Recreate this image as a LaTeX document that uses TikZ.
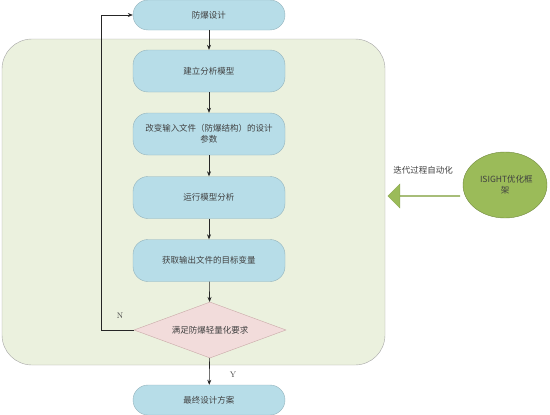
\documentclass[tikz,border=0pt]{standalone}
\usepackage{fontspec}
\newfontfamily\cjk{Noto Sans CJK SC}
\usetikzlibrary{shapes.geometric,shapes.arrows,arrows.meta}
\definecolor{boxfill}{HTML}{B7DDE8}
\definecolor{boxline}{HTML}{93B3BC}
\definecolor{bgfill}{HTML}{EBF1DE}
\definecolor{bgline}{HTML}{A6A6A6}
\definecolor{dfill}{HTML}{F2DCDB}
\definecolor{dline}{HTML}{C9A9A8}
\definecolor{efill}{HTML}{9BBB59}
\definecolor{eline}{HTML}{71893F}
\definecolor{txt}{HTML}{404040}
\tikzset{
  stepbox/.style={draw=boxline, fill=boxfill, rounded corners=15pt, minimum width=152pt, minimum height=42pt, text width=140pt, align=center, font=\cjk\fontsize{8.5}{11}\selectfont, text=txt},
  termbox/.style={stepbox, minimum height=30pt},
  conn/.style={draw=black!85, -{Stealth[length=5pt,width=4pt]}, line width=0.6pt},
}
\begin{document}
\begin{tikzpicture}[x=1pt,y=-1pt]
\useasboundingbox (0,0) rectangle (550,415);
\draw[fill=bgfill, draw=bgline, rounded corners=30pt] (2,39) rectangle (385,365);
\node[termbox] (a) at (209,15) {防爆设计};
\node[stepbox] (b) at (209,71) {建立分析模型};
\node[stepbox] (c) at (209,134) {改变输入文件（防爆结构）的设计\\参数};
\node[stepbox] (d) at (209,197.5) {运行模型分析};
\node[stepbox] (e) at (209,260.5) {获取输出文件的目标变量};
\node[diamond, draw=dline, fill=dfill, minimum width=152pt, minimum height=56pt, aspect=2.7, inner sep=0pt, font=\cjk\fontsize{8.5}{11}\selectfont, text=txt] (f) at (210,330) {满足防爆轻量化要求};
\node[termbox] (g) at (209,400) {最终设计方案};
\draw[conn] (a) -- (b);
\draw[conn] (b) -- (c);
\draw[conn] (c) -- (d);
\draw[conn] (d) -- (e);
\draw[conn] (e) -- (f);
\draw[conn] (f) -- (g);
\coordinate (lb) at (101,330);
\coordinate (lt) at (101,15);
\draw[conn] (f.west) -- (lb) -- (lt) -- (a.west);
\node[font=\rmfamily\fontsize{8}{10}\selectfont, text=txt] (n) at (120,316) {N};
\node[font=\rmfamily\fontsize{8}{10}\selectfont, text=txt] (y) at (233,375) {Y};
\node[ellipse, draw=eline, fill=efill, minimum width=84pt, minimum height=66pt, inner sep=0pt, text width=50pt, align=center, font=\cjk\fontsize{8.5}{11}\selectfont, text=txt] (h) at (505,185) {ISIGHT优化框\\架};
\node[single arrow, shape border rotate=180, draw=efill!90!black, fill=efill, minimum height=72pt, minimum width=24pt, single arrow head extend=6pt, inner sep=0pt] (ar) at (424,196) {};
\node[font=\cjk\fontsize{8.5}{11}\selectfont, text=txt] (t) at (423,170) {迭代过程自动化};
\end{tikzpicture}
\end{document}
